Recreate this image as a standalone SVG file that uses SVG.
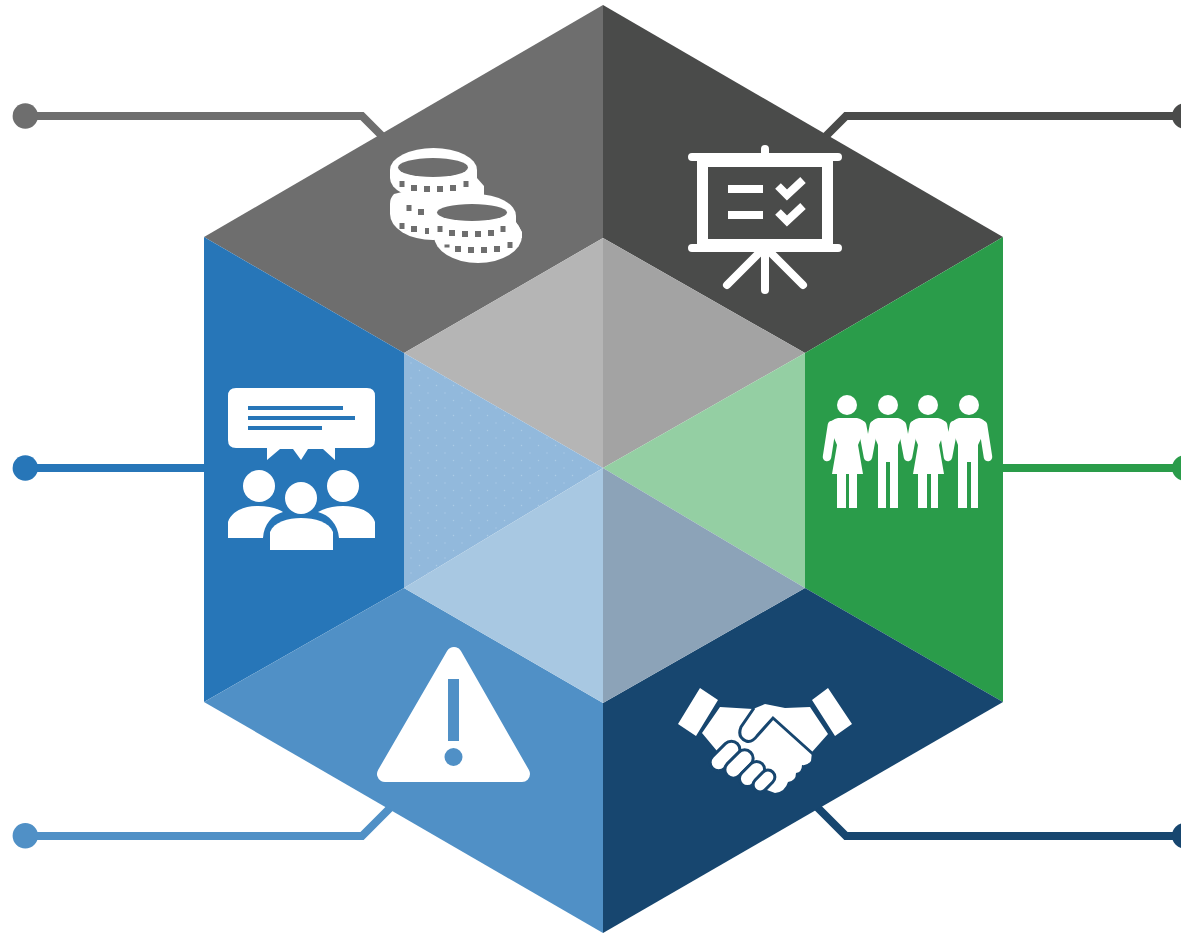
<svg xmlns="http://www.w3.org/2000/svg" width="1181" height="934" viewBox="0 0 1181 934">
<defs><style>
.c{fill:none;stroke-width:8}
.w{fill:#fff}
.ws{fill:none;stroke:#fff;stroke-linecap:round;stroke-linejoin:round}
.k{fill:#6e6e6e}
.arm{fill:none;stroke:#fff;stroke-width:8.500;stroke-linecap:round;stroke-linejoin:round}
.f{fill:#fff;stroke:#17466f;stroke-width:6;paint-order:stroke}
</style>
<pattern id="dots" width="17" height="15" patternUnits="userSpaceOnUse"><circle cx="3" cy="3" r="0.7" fill="#acCBe6"/><circle cx="11.500" cy="10.500" r="0.7" fill="#acCBe6"/></pattern>
</defs>
<rect width="1181" height="934" fill="#fff"/>
<g id="connectors">
<path class="c" stroke="#6e6e6e" d="M25 116H362L388 142"/><circle cx="25.300" cy="116" r="12.700" fill="#6e6e6e"/>
<path class="c" stroke="#4a4b4a" d="M1181 116H846L820 142"/><circle cx="1184.700" cy="116" r="12.700" fill="#4a4b4a"/>
<path class="c" stroke="#2776b8" d="M25 468H210"/><circle cx="25.300" cy="468" r="12.700" fill="#2776b8"/>
<path class="c" stroke="#2a9c4a" d="M1181 468H1000"/><circle cx="1184.700" cy="468" r="12.700" fill="#2a9c4a"/>
<path class="c" stroke="#5090c6" d="M25 836H362L395 803"/><circle cx="25.300" cy="835.800" r="12.700" fill="#5090c6"/>
<path class="c" stroke="#17466f" d="M1181 836H846L813 803"/><circle cx="1184.700" cy="835.800" r="12.700" fill="#17466f"/>
</g>
<g id="hexagon">
<polygon points="603,5 204,237 404,353 603,238" fill="#6e6e6e"/>
<polygon points="603,5 1003,237 805,353 603,238" fill="#4a4b4a"/>
<polygon points="204,237 404,353 404,588 204,702" fill="#2776b8"/>
<polygon points="1003,237 805,353 805,588 1003,702" fill="#2a9c4a"/>
<polygon points="204,702 404,588 603,703 603,933" fill="#5090c6"/>
<polygon points="1003,702 805,588 603,703 603,933" fill="#17466f"/>
<polygon points="603,238 404,353 603,468" fill="#b5b5b5"/>
<polygon points="603,238 805,353 603,468" fill="#a3a3a3"/>
<polygon points="404,353 603,468 404,588" fill="#92b9dc"/>
<polygon points="404,353 603,468 404,588" fill="url(#dots)"/>
<polygon points="805,353 603,468 805,588" fill="#94cfa3"/>
<polygon points="404,588 603,468 603,703" fill="#a8c8e2"/>
<polygon points="805,588 603,468 603,703" fill="#8ca3b8"/>
</g>
<g id="icon-coins">
<path class="w" d="M390 170A43.500 22 0 0 1 477 170V178A43.500 22 0 0 1 390 178Z"/>
<path class="w" d="M477 178L484 186V198H440V190Z"/>
<path class="w" d="M394 194L410 190H476V214A43 26 0 0 1 390 214V204Q390 198 394 194Z"/>
<path class="w" d="M435 216A40.500 22 0 0 1 516 216V224H435Z"/>
<path class="w" d="M434 236A44 27 0 0 1 522 236A44 27 0 0 1 434 236Z"/>
<path class="w" d="M434 222H516L522 232V238H434Z"/>
<ellipse cx="433" cy="167.500" rx="35" ry="9.500" class="k"/>
<ellipse cx="472" cy="212.500" rx="35" ry="8.500" class="k"/>
<g class="k">
<rect x="399.500" y="181" width="5" height="6"/><rect x="411" y="185" width="6" height="6"/><rect x="424" y="186" width="6" height="6"/><rect x="437" y="186" width="6" height="6"/><rect x="450" y="185" width="6" height="6"/><rect x="463.500" y="181" width="5" height="6"/>
<rect x="406.500" y="205" width="5" height="6"/><rect x="418" y="209" width="6" height="6"/>
<rect x="399.500" y="223" width="5" height="6"/><rect x="411" y="226" width="6" height="6"/><rect x="425" y="228" width="4" height="6"/>
<rect x="437.500" y="226" width="5" height="6"/><rect x="449" y="230" width="6" height="6"/><rect x="462" y="231" width="6" height="6"/><rect x="475" y="231" width="6" height="6"/><rect x="488" y="230" width="6" height="6"/><rect x="500.500" y="226" width="5" height="6"/>
<rect x="444.500" y="244.500" width="5" height="3"/><rect x="455" y="246" width="6" height="6"/><rect x="468" y="247" width="6" height="6"/><rect x="481" y="247" width="6" height="6"/><rect x="494" y="246" width="6" height="6"/><rect x="507.500" y="242" width="5" height="6"/>
</g>
</g>
<g id="icon-board">
<path class="ws" stroke-width="8" d="M692 157H838M692 248H838"/>
<path class="w" fill-rule="evenodd" d="M697 153H833V252H697ZM708 167V239H822V167Z"/>
<path class="ws" stroke-width="8" d="M765 149V156M765 250V290M760 252L727 285M770 252L803 285"/>
<path class="w" d="M728 185H763V193H728ZM728 211H763V219H728Z"/>
<path fill="none" stroke="#fff" stroke-width="8" d="M778 186L787 195L803 180M778 212L787 221L803 206"/>
</g>
<g id="icon-people">
<path class="w" d="M236 388H367Q375 388 375 396V440Q375 448 367 448H335V460L323 449H308L301 460L293 449H280L267 460V448H236Q228 448 228 440V396Q228 388 236 388Z"/>
<path d="M248 408H343M248 418H355M248 428H322" stroke="#2776b8" stroke-width="4" fill="none"/>
<circle cx="259" cy="486" r="16" class="w"/><circle cx="343" cy="486" r="16" class="w"/><circle cx="301" cy="498" r="16" class="w"/>
<path class="w" d="M228 538V522C232 510 246 506 258 506C268 506 277 508 283 512C272 515 264 524 263 538ZM375 538V522C371 510 356 506 343 506C334 506 325 508 318 512C329 515 338 524 339 538Z"/>
<path class="w" d="M270 550V532C274 522 288 518 301 518C315 518 329 522 333 532V550Z"/>
</g>
<g id="icon-family">
<circle cx="847" cy="405" r="10" class="w"/><circle cx="888" cy="405" r="10" class="w"/><circle cx="928" cy="405" r="10" class="w"/><circle cx="969" cy="405" r="10" class="w"/>
<path class="arm" d="M832 425L827 457M862 425L868 457L874 425M902 425L908 457L914 425M943 425L948 457L954 425M983 425L988 457"/>
<path class="w" d="M838 418H857Q864 419 866 426L858 445L863 474H857V508H849V474H846V508H837V474H832L837 445L829 426Q831 419 838 418Z"/>
<path class="w" d="M878 418H898Q904 419 906 426L898 445V508H890V462H886V508H878V445L870 426Q872 419 878 418Z"/>
<path class="w" d="M919 418H938Q945 419 947 426L939 445L944 474H938V508H931V474H927V508H918V474H913L918 445L910 426Q912 419 919 418Z"/>
<path class="w" d="M959 418H979Q985 419 987 426L978 445V508H971V462H967V508H958V445L951 426Q953 419 959 418Z"/>
</g>
<g id="icon-warning">
<polygon points="454,655 385,774 522,774" fill="#fff" stroke="#fff" stroke-width="16" stroke-linejoin="round"/>
<rect x="448" y="679" width="11" height="62" fill="#5090c6"/>
<circle cx="453.500" cy="757" r="9" fill="#5090c6"/>
</g>
<g id="icon-handshake">
<path class="w" d="M700 688L718 700L696 736L678 724ZM828 688L812 700L835 736L852 724Z"/>
<path class="w" d="M720 707L753 709L765 704L785 708L810 707L828 734L812 752L811 761Q807 766 802 765Q802 772 796 773Q796 781 788 782Q785 792 775 793L767 790L740 770L717 751L702 733Z"/>
<path d="M754 708L741 727Q737 737 746 741Q752 743 757 736L773 718L813 754" fill="none" stroke="#17466f" stroke-width="3"/>
<rect x="709" y="749" width="32" height="14" rx="7" transform="rotate(-45 725 756)" class="f"/>
<rect x="724" y="757" width="30" height="14" rx="7" transform="rotate(-45 739 764)" class="f"/>
<rect x="739" y="767.500" width="26" height="13" rx="6.500" transform="rotate(-45 752 774)" class="f"/>
<rect x="753" y="775.500" width="22" height="11" rx="5.500" transform="rotate(-45 764 781)" class="f"/>
</g>
</svg>
